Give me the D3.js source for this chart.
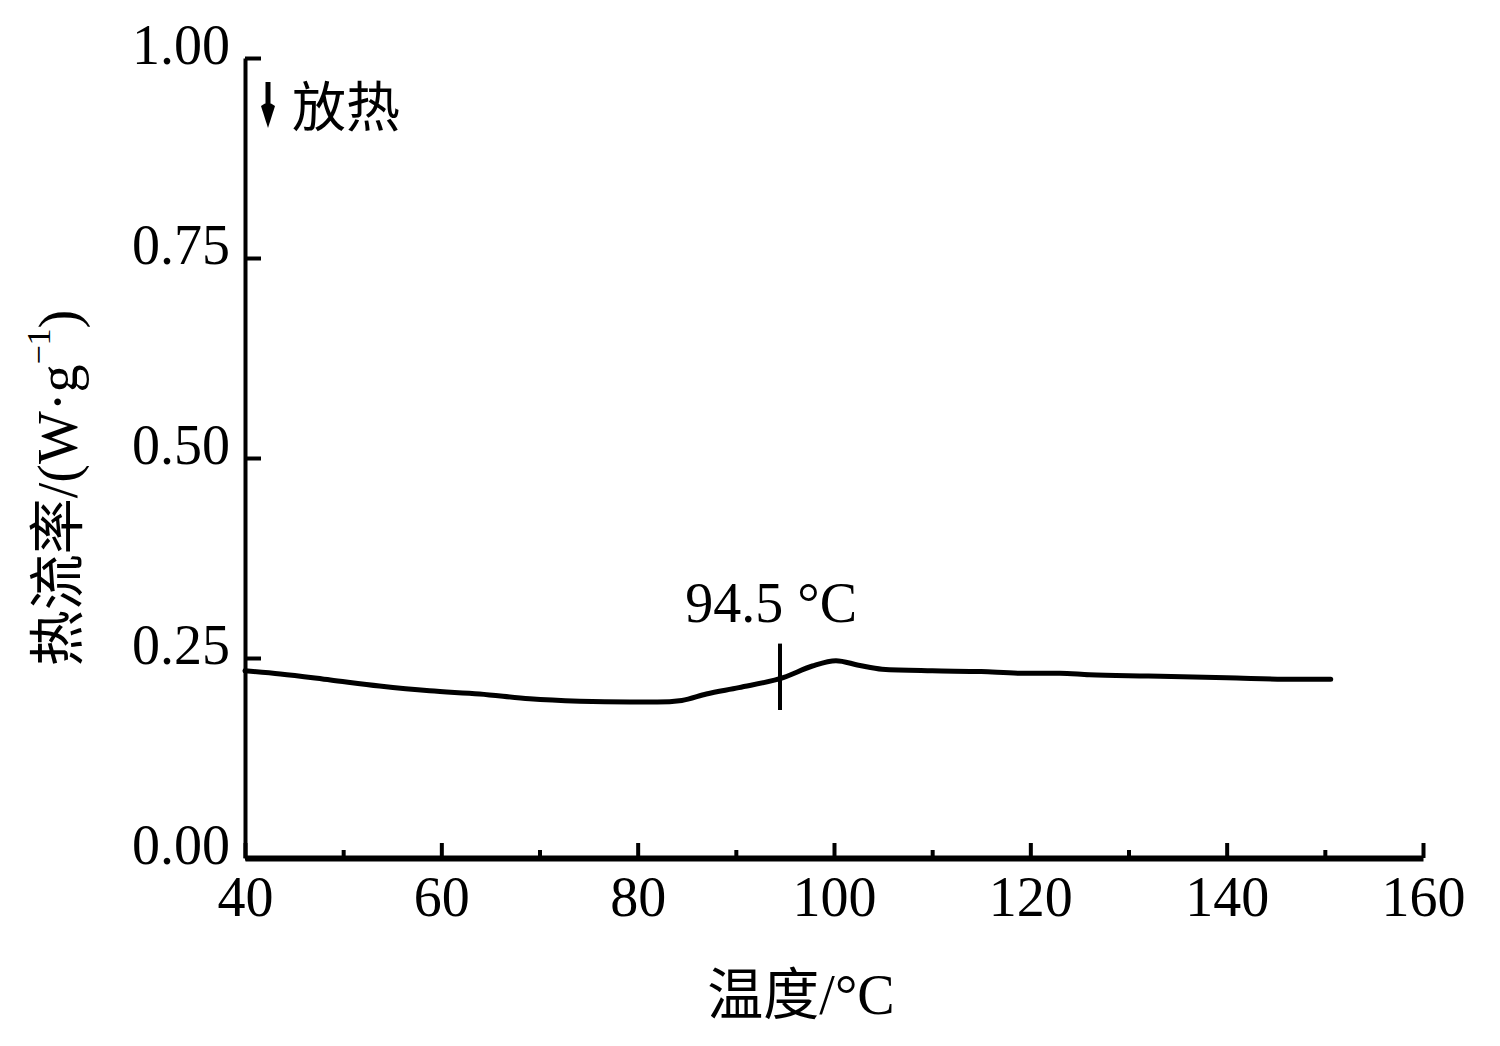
<!DOCTYPE html>
<html>
<head>
<meta charset="utf-8">
<script src="https://cdn.jsdelivr.net/npm/d3@7"></script>
<style>
  html, body { margin: 0; padding: 0; background: #fff; }
  svg { display: block; }
</style>
</head>
<body>
<svg id="chart" width="1500" height="1046"></svg>
<script>
// ---- data ----
const temperature = [40, 43.6, 48.7, 53.7, 58.8, 63.9, 69, 74.1, 79.2, 82, 84.5, 87, 90.3, 94.9, 97.8, 100.2, 102.5, 104.9, 110, 115, 119, 123, 126, 132, 140, 147, 150.6];
const heatFlow    = [0.234, 0.230, 0.2225, 0.215, 0.209, 0.205, 0.199, 0.196, 0.195, 0.195, 0.197, 0.205, 0.213, 0.2258, 0.240, 0.2466, 0.241, 0.236, 0.234, 0.233, 0.231, 0.231, 0.229, 0.2275, 0.2254, 0.2233, 0.2233];
const xMajorTicks = [40, 60, 80, 100, 120, 140, 160];
const xMinorTicks = [50, 70, 90, 110, 130, 150];
const yTicks = [0, 0.25, 0.5, 0.75, 1.0];
const markerTemp = 94.5;
const markerRange = [0.185, 0.268];
const markerLabel = "94.5 °C";
const exoLabel = "放热";
const xTitle = "温度/°C";

const FONT = "'Liberation Serif', 'Times New Roman', 'Noto Sans CJK SC', serif";
const svg = d3.select("#chart");

const x = d3.scaleLinear().domain([40, 160]).range([245, 1423]);
const y = d3.scaleLinear().domain([0, 1]).range([858, 58]);

// ---- x axis ----
const gx = svg.append("g").attr("transform", `translate(0,${y(0)})`)
  .call(d3.axisBottom(x).tickValues(xMajorTicks).tickSizeInner(-15).tickSizeOuter(0).tickPadding(18).tickFormat(d3.format("d")));
gx.select(".domain").attr("stroke", "#000").attr("stroke-width", 6);
gx.selectAll(".tick line").attr("stroke", "#000").attr("stroke-width", 4);
gx.selectAll(".tick text").attr("font-family", FONT).attr("font-size", 56).attr("fill", "#000");

const gxm = svg.append("g").attr("transform", `translate(0,${y(0)})`)
  .call(d3.axisBottom(x).tickValues(xMinorTicks).tickSizeInner(-8).tickSizeOuter(0).tickFormat(""));
gxm.select(".domain").remove();
gxm.selectAll(".tick line").attr("stroke", "#000").attr("stroke-width", 4);

// ---- y axis ----
const gy = svg.append("g").attr("transform", `translate(${x(40)},0)`)
  .call(d3.axisLeft(y).tickValues(yTicks).tickSizeInner(-16).tickSizeOuter(0).tickPadding(15).tickFormat(d3.format(".2f")));
gy.select(".domain").attr("stroke", "#000").attr("stroke-width", 4);
gy.selectAll(".tick line").attr("stroke", "#000").attr("stroke-width", 4);
gy.selectAll(".tick text").attr("font-family", FONT).attr("font-size", 56).attr("fill", "#000").attr("dy", "0.1em");

// ---- curve ----
const line = d3.line().x((d, i) => x(temperature[i])).y(d => y(d)).curve(d3.curveMonotoneX);
svg.append("path").datum(heatFlow)
  .attr("d", line).attr("fill", "none").attr("stroke", "#000")
  .attr("stroke-width", 5).attr("stroke-linecap", "round").attr("stroke-linejoin", "round");

// ---- marker ----
svg.append("line")
  .attr("x1", x(markerTemp)).attr("x2", x(markerTemp))
  .attr("y1", y(markerRange[0])).attr("y2", y(markerRange[1]))
  .attr("stroke", "#000").attr("stroke-width", 4);
svg.append("text")
  .attr("x", x(93.6)).attr("y", 622).attr("text-anchor", "middle")
  .attr("font-family", FONT).attr("font-size", 56).attr("fill", "#000")
  .text(markerLabel);

// ---- exotherm arrow ----
svg.append("line").attr("x1", 268).attr("x2", 268).attr("y1", 82).attr("y2", 112)
  .attr("stroke", "#000").attr("stroke-width", 5);
svg.append("path").attr("d", "M261,106 Q268,100 275,106 L268,128 Z").attr("fill", "#000");
svg.append("text").attr("x", 292).attr("y", 103).attr("dominant-baseline", "central")
  .attr("font-family", "'Noto Sans CJK SC', sans-serif").attr("font-size", 54).attr("fill", "#000")
  .text(exoLabel);

// ---- axis titles ----
svg.append("text").attr("x", 801).attr("y", 1014).attr("text-anchor", "middle")
  .attr("font-family", FONT).attr("font-size", 56).attr("fill", "#000")
  .text(xTitle);

const yt = svg.append("text")
  .attr("transform", "translate(77,488) rotate(-90)")
  .attr("text-anchor", "middle")
  .attr("font-family", FONT).attr("font-size", 56).attr("fill", "#000");
yt.append("tspan").text("热流率/(W·g");
yt.append("tspan").attr("font-size", 34).attr("dy", "-0.8em").text("−1");
yt.append("tspan").attr("dy", "0.5em").text(")");
</script>
</body>
</html>
